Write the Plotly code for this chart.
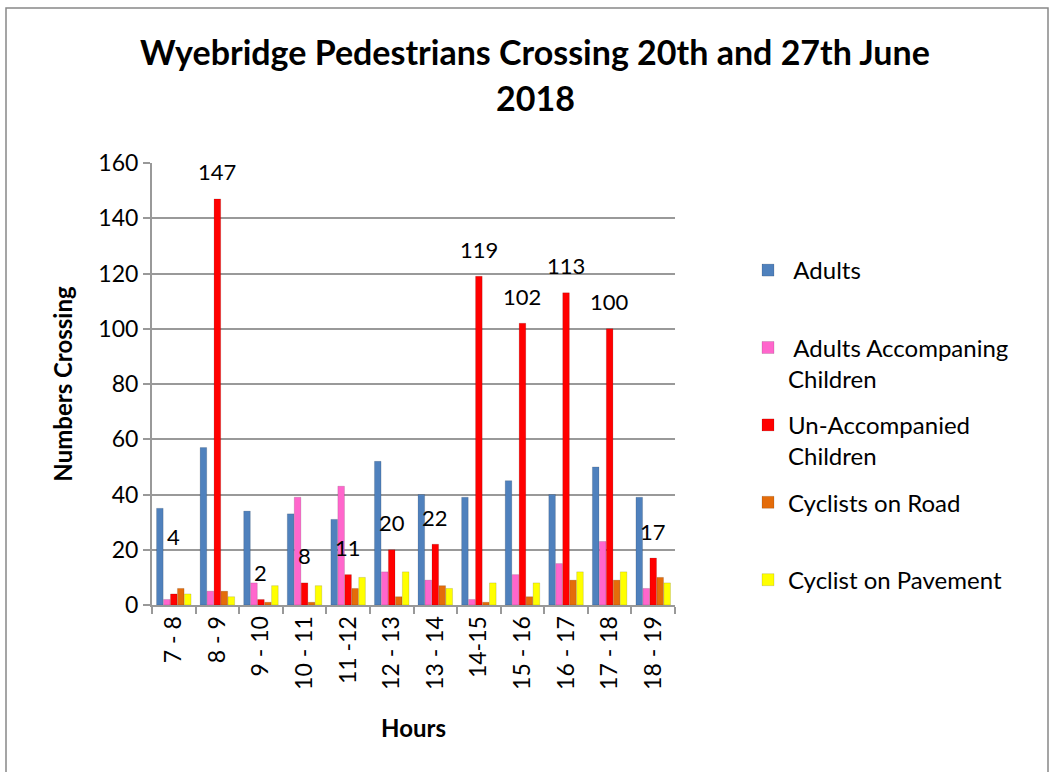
import plotly.graph_objects as go

hours = ["7 - 8", "8 - 9", "9 - 10", "10 - 11", "11 -12", "12 - 13", "13 - 14",
         "14-15", "15 - 16", "16 - 17", "17 - 18", "18 - 19"]
adults = [35, 57, 34, 33, 31, 52, 40, 39, 45, 40, 50, 39]
adults_acc_children = [2, 5, 8, 39, 43, 12, 9, 2, 11, 15, 23, 6]
unaccompanied_children = [4, 147, 2, 8, 11, 20, 22, 119, 102, 113, 100, 17]
cyclists_road = [6, 5, 1, 1, 6, 3, 7, 1, 3, 9, 9, 10]
cyclists_pavement = [4, 3, 7, 7, 10, 12, 6, 8, 8, 12, 12, 8]

series = [
    (" Adults<br> ", adults, "#4F81BD"),
    (" Adults Accompaning<br>Children", adults_acc_children, "#FF66CC"),
    ("Un-Accompanied<br>Children", unaccompanied_children, "#FF0000"),
    ("Cyclists on Road<br> ", cyclists_road, "#E46C0A"),
    ("Cyclist on Pavement<br> ", cyclists_pavement, "#FFFF00"),
]

FONT = "Lato, Open Sans, sans-serif"
W, H = 1054, 772
L, R, T, B = 152, 675, 163, 605

def px(x):
    return (x - L) / (R - L)

def py(y):
    return (B - y) / (B - T)

fig = go.Figure()
for name, vals, col in series:
    fig.add_trace(go.Bar(
        x=hours, y=vals, name=name, legendgroup=name,
        marker=dict(color=col, line=dict(color="rgba(0,0,0,0.25)", width=0.5)),
    ))

annotations = []
for i, (h, v) in enumerate(zip(hours, unaccompanied_children)):
    annotations.append(dict(
        x=h, y=v, xref="x", yref="y", text=str(v), showarrow=False,
        xanchor="center", yanchor="middle",
        yshift=57 if i == 0 else 27, font=dict(family=FONT, size=22, color="black"),
    ))

annotations += [
    dict(x=px(535), y=py(51), xref="paper", yref="paper", showarrow=False,
         xanchor="center", yanchor="middle",
         text="<b>Wyebridge Pedestrians Crossing 20th and 27th June</b>",
         font=dict(family=FONT, size=34, color="black")),
    dict(x=px(535), y=py(97), xref="paper", yref="paper", showarrow=False,
         xanchor="center", yanchor="middle",
         text="<b>2018</b>", font=dict(family=FONT, size=34, color="black")),
]

fig.update_layout(
    width=W, height=H,
    margin=dict(l=L, r=W - R, t=T, b=H - B, autoexpand=False),
    paper_bgcolor="white", plot_bgcolor="white",
    barmode="group", bargap=0.2, bargroupgap=0.05,
    font=dict(family=FONT, size=22, color="black"),
    showlegend=True,
    legend=dict(x=px(748), y=py(248), xanchor="left", yanchor="top",
                font=dict(family=FONT, size=24), valign="top",
                tracegroupgap=12, itemclick=False),
    annotations=annotations,
    shapes=[dict(type="rect", xref="paper", yref="paper",
                 x0=px(6), x1=px(1048), y0=py(790), y1=py(8),
                 line=dict(color="#888888", width=1.5))],
    xaxis=dict(
        type="category", showline=True, linecolor="#999999", linewidth=2,
        ticks="outside", tickson="boundaries", ticklen=7, tickcolor="#999999",
        tickwidth=2, tickangle=-90, tickfont=dict(family=FONT, size=23),
        title=dict(text="<b>Hours</b>", font=dict(family=FONT, size=24), standoff=31),
        showgrid=False,
    ),
    yaxis=dict(
        range=[0, 160], dtick=20, showline=True, linecolor="#999999", linewidth=2,
        ticks="outside", ticklen=7, tickcolor="#999999", tickwidth=2,
        gridcolor="#999999", gridwidth=2, zeroline=False,
        tickfont=dict(family=FONT, size=23),
        title=dict(text="<b>Numbers Crossing</b>", font=dict(family=FONT, size=24), standoff=19),
    ),
)

fig.write_html("out.html", config={"displayModeBar": False},
               post_script="document.body.style.margin='0';")
